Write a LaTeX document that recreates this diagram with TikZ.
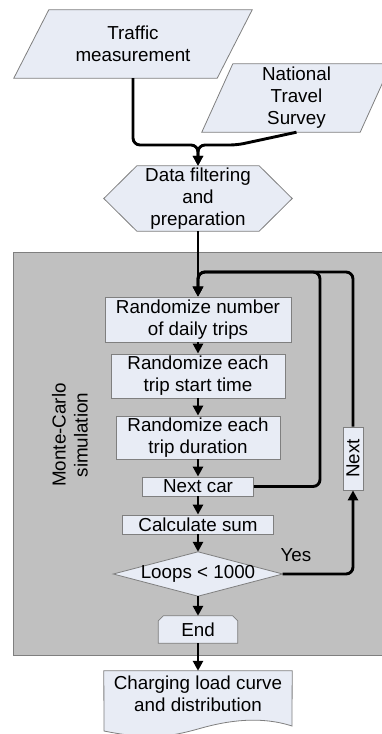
\documentclass[tikz,border=0pt]{standalone}
\usepackage{fontspec}
\setmainfont{Liberation Sans}
\usepackage{graphicx}
\usetikzlibrary{arrows.meta,calc}
\definecolor{boxfill}{HTML}{E8ECF5}
\definecolor{boxline}{HTML}{7F7F7F}
\definecolor{simgray}{HTML}{C0C0C0}
\pgfdeclarelayer{back}
\pgfdeclarelayer{shapes}
\pgfsetlayers{back,shapes,main}
\begin{document}
\begin{tikzpicture}[x=1pt,y=-1pt,
  txt/.style={font=\fontsize{18.8}{22}\selectfont, align=center, inner sep=0pt},
  holder/.style={txt, rectangle},
  rbox/.style={txt, rectangle, fill=boxfill, draw=boxline, line width=0.8pt},
  outline/.style={fill=boxfill, draw=boxline, line width=0.8pt, line join=miter},
  flow/.style={line width=2.9pt, line join=round, -{Triangle[width=10pt,length=10pt]}},
]
\useasboundingbox (0,0) rectangle (382,734);
\clip (0,0) rectangle (382,734);

% Monte-Carlo simulation area
\begin{pgfonlayer}{back}
  \fill[simgray] (13,252) rectangle (395,655);
  \draw[boxline, line width=1pt] (395,252) -- (13,252) -- (13,655) -- (395,655);
\end{pgfonlayer}

% Inputs
\node[holder, minimum width=238pt, minimum height=68pt] (tm) at (133,44) {Traffic\\measurement};
\node[holder, minimum width=189pt, minimum height=68pt] (nts) at (296.5,98) {National\\Travel\\Survey};
\node[holder, minimum width=188pt, minimum height=65pt] (prep) at (198,198.5) {Data filtering\\and\\preparation};

% Simulation steps
\node[rbox, minimum width=186pt, minimum height=45pt] (r1) at (198,319.5) {Randomize number\\of daily trips};
\node[rbox, minimum width=174pt, minimum height=44pt] (r2) at (198,376) {Randomize each\\trip start time};
\node[rbox, minimum width=164pt, minimum height=43pt] (r3) at (198,437.5) {Randomize each\\trip duration};
\node[rbox, minimum width=111pt, minimum height=19pt] (nc) at (198,486.5) {Next car};
\node[rbox, minimum width=151pt, minimum height=19pt] (cs) at (198,524.5) {Calculate sum};
\node[holder, minimum width=169pt, minimum height=44pt] (loop) at (198,574) {Loops < 1000};
\node[holder, minimum width=79pt, minimum height=27pt] (end) at (198,629.5) {End};
\node[rbox, minimum width=20pt, minimum height=63pt] (nxt) at (353,458.5) {\rotatebox{90}{Next}};
\node[holder, minimum width=188pt, minimum height=46pt] (out) at (198,694) {Charging load curve\\and distribution};

% Labels
\node[txt] (yes) at (296,555) {Yes};
\node[txt, rotate=90] (mc) at (70,435) {Monte-Carlo\\simulation};

% Outlines of the shaped nodes
\begin{pgfonlayer}{shapes}
  \draw[outline] ($(tm.north west)+(35,0)$) -- (tm.north east) -- ($(tm.south east)+(-35,0)$) -- (tm.south west) -- cycle;
  \draw[outline] ($(nts.north west)+(31,0)$) -- (nts.north east) -- ($(nts.south east)+(-31,0)$) -- (nts.south west) -- cycle;
  \draw[outline] ($(prep.north west)+(33,0)$) -- ($(prep.north east)+(-33,0)$) -- (prep.east)
    -- ($(prep.south east)+(-33,0)$) -- ($(prep.south west)+(33,0)$) -- (prep.west) -- cycle;
  \draw[outline] (loop.north) -- (loop.east) -- (loop.south) -- (loop.west) -- cycle;
  \draw[outline] (end.south west) -- ($(end.north west)+(0,5)$) -- ($(end.north west)+(5,0)$)
    -- ($(end.north east)+(-5,0)$) -- ($(end.north east)+(0,5)$) -- (end.south east) -- cycle;
  \draw[outline] (out.north west) -- (104,731) .. controls (149,740) and (169,737) .. (198,729)
    .. controls (229,720) and (261,716) .. (292,726) -- (out.north east) -- cycle;
\end{pgfonlayer}

% Connectors
\coordinate (m) at (198,145);
\coordinate (nk) at (237,145);
\coordinate (j) at (198,272);
\coordinate (lc) at (320,272);
\draw[flow, rounded corners=7pt] (tm.south) |- (m) -- (prep.north);
\draw[flow, rounded corners=7pt] (nts.south) -- (nk) -- (m) -- (prep.north);
\draw[flow] (prep.south) -- (r1.north);
\draw[flow, rounded corners=7pt] (nc.east) -| (lc) -- (j) -- (r1.north);
\draw[flow, rounded corners=7pt] (nxt.north) |- (j) -- (r1.north);
\draw[flow] (r1.south) -- (r2.north);
\draw[flow] (r2.south) -- (r3.north);
\draw[flow] (r3.south) -- (nc.north);
\draw[flow] (nc.south) -- (cs.north);
\draw[flow] (cs.south) -- (loop.north);
\draw[flow, rounded corners=7pt] (loop.east) -| (nxt.south);
\draw[flow] (loop.south) -- (end.north);
\draw[flow] (end.south) -- (out.north);
\end{tikzpicture}
\end{document}
